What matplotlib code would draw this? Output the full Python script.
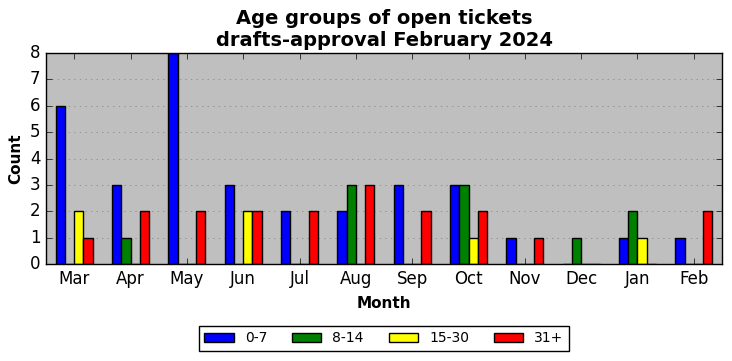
import matplotlib
matplotlib.use("Agg")
import matplotlib.pyplot as plt
import numpy as np

plt.style.use('classic')

months = ["Mar", "Apr", "May", "Jun", "Jul", "Aug", "Sep", "Oct", "Nov", "Dec", "Jan", "Feb"]
series_names = ["0-7", "8-14", "15-30", "31+"]
age_0_7 = [6, 3, 8, 3, 2, 2, 3, 3, 1, 0, 1, 1]
age_8_14 = [0, 1, 0, 0, 0, 3, 0, 3, 0, 1, 2, 0]
age_15_30 = [2, 0, 0, 2, 0, 0, 0, 1, 0, 0, 1, 0]
age_31_plus = [1, 2, 2, 2, 2, 3, 2, 2, 1, 0, 0, 2]
colors = ["blue", "green", "yellow", "red"]

fig = plt.figure(figsize=(7.32, 3.61), dpi=100)
ax = fig.add_axes([46/732, 1-264/361, (722-46)/732, (264-53)/361])
ax.set_facecolor("#bfbfbf")

x = np.arange(len(months))
w = 0.165
for i, (vals, name, c) in enumerate(zip([age_0_7, age_8_14, age_15_30, age_31_plus], series_names, colors)):
    ax.bar(x + (i - 1.5) * w, vals, width=w, color=c, edgecolor="black", linewidth=1, label=name, align="center")

ax.set_xlim(-0.5, len(months) - 0.5)
ax.set_ylim(0, 8)
ax.set_xticks(x)
ax.set_xticklabels(months)
ax.set_yticks(range(0, 9))
ax.yaxis.grid(True, linestyle=":", color="gray")
ax.xaxis.grid(False)
ax.set_axisbelow(True)
ax.set_xlabel("Month", fontweight="bold", fontsize=11, labelpad=6)
ax.set_ylabel("Count", fontweight="bold", fontsize=11)
ax.set_title("Age groups of open tickets\ndrafts-approval February 2024", fontweight="bold", fontsize=14)
ax.legend(loc="upper center", bbox_to_anchor=(0.5, -0.26), ncol=4, fontsize=10, frameon=True,
          columnspacing=1.8, handlelength=2.1)

fig.savefig("out.png", dpi=100)
